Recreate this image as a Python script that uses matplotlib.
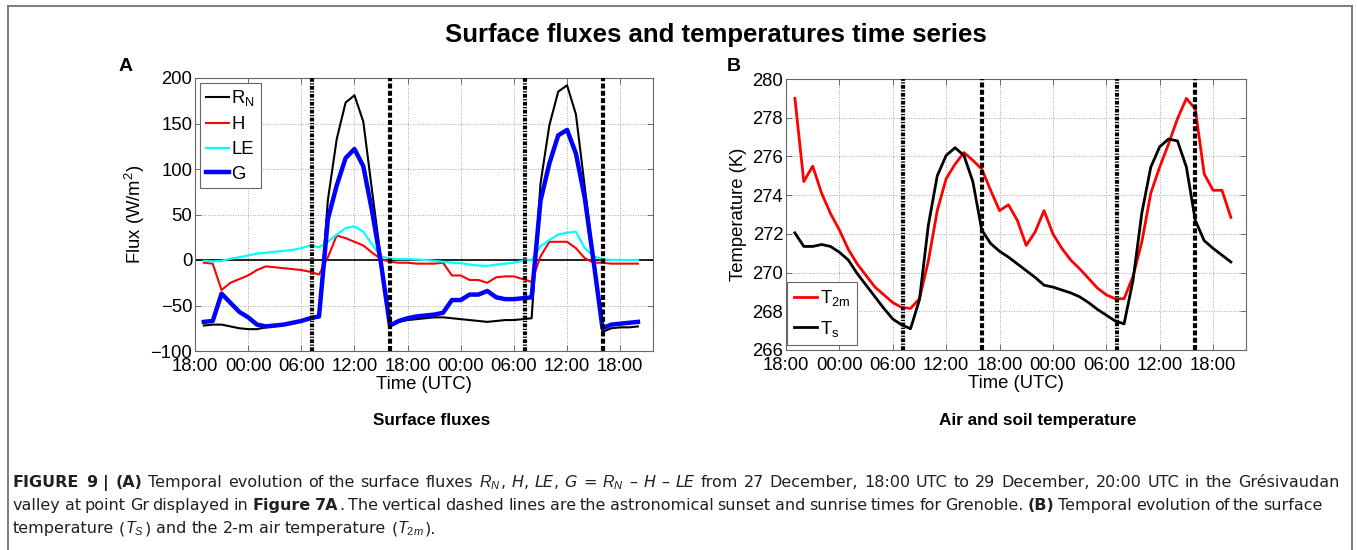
import numpy as np
import matplotlib
matplotlib.use("Agg")
import matplotlib.pyplot as plt
from matplotlib.lines import Line2D

plt.rcParams["font.family"] = ["Liberation Sans", "DejaVu Sans"]
plt.rcParams["mathtext.fontset"] = "custom"
plt.rcParams["mathtext.rm"] = "Liberation Sans"
plt.rcParams["mathtext.it"] = "Liberation Sans:italic"
plt.rcParams["mathtext.bf"] = "Liberation Sans:bold"

# ---------------- data (hourly, hours after 27 Dec 18:00 UTC) ----------------
hours = np.arange(1, 51)

rn = [-72, -71, -71, -73, -75, -76, -76, -74, -73, -71, -69, -67, -65, -63,
      66, 133, 173, 181, 152, 75, 0,
      -73, -68, -66, -65, -64, -63, -63, -64, -65, -66, -67, -68, -67, -66,
      -66, -65, -64,
      84, 148, 185, 192, 160, 80, 0,
      -79, -75, -74, -74, -73]

h_flux = [-3, -4, -33, -25, -21, -17, -11, -7, -8, -9, -10, -11, -13, -16,
          3, 27, 24, 20, 16, 8, 1,
          -2, -3, -3, -4, -4, -4, -3, -17, -17, -22, -22, -25, -19, -18,
          -18, -21, -24,
          4, 20, 20, 20, 13, 2, -3,
          -3, -4, -4, -4, -4]

le_flux = [-1, -1.5, -1, 1.5, 3, 5, 7, 8, 9, 10, 11, 13, 16, 14,
           20, 28, 35, 37, 31, 17, 4,
           1.5, 1, 1, 0.5, 0, -1, -2, -3, -3.5, -5, -6, -6.5, -5, -4,
           -3, -1, 0,
           15, 22, 28, 30, 31, 13, 4,
           1, 0, 0, 0, 0]

g_flux = [-68, -67, -37, -47, -57, -63, -71, -73, -72, -71, -69, -67, -64, -62,
          45, 82, 112, 122, 103, 53, -4,
          -72, -67, -64, -62, -61, -60, -58, -44, -44, -38, -38, -34, -41, -43,
          -43, -42, -41,
          65, 106, 137, 143, 117, 68, -2,
          -75, -71, -70, -69, -68]

t2m = [279.0, 274.7, 275.5, 274.1, 273.05, 272.2, 271.2, 270.45, 269.85, 269.25,
       268.85, 268.45, 268.2, 268.15, 268.65, 270.6, 273.2, 274.85, 275.6, 276.2,
       275.8, 275.35, 274.25, 273.2, 273.5, 272.7, 271.4, 272.1, 273.2, 272.0,
       271.25, 270.65, 270.2, 269.7, 269.2, 268.85, 268.65, 268.65, 269.8, 271.6,
       274.1, 275.45, 276.65, 277.95, 279.0, 278.45, 275.1, 274.25, 274.25, 272.85]

ts = [272.05, 271.35, 271.35, 271.45, 271.35, 271.05, 270.65, 269.95, 269.35, 268.75,
      268.15, 267.6, 267.3, 267.1, 268.6, 272.45, 275.0, 276.05, 276.45, 276.05,
      274.7, 272.2, 271.5, 271.1, 270.8, 270.45, 270.1, 269.75, 269.35, 269.25,
      269.1, 268.95, 268.75, 268.45, 268.1, 267.8, 267.5, 267.35, 269.6, 273.1,
      275.45, 276.5, 276.9, 276.8, 275.45, 272.7, 271.65, 271.25, 270.9, 270.55]

sunrise_hours = [13.2, 37.2]
sunset_hours = [22.0, 46.0]

tick_hours = [0, 6, 12, 18, 24, 30, 36, 42, 48]
tick_labels = ["18:00", "00:00", "06:00", "12:00", "18:00",
               "00:00", "06:00", "12:00", "18:00"]

# ---------------- figure ----------------
W, H = 1357, 550
fig = plt.figure(figsize=(W / 100, H / 100), dpi=100)


def axes_px(left, top, right, bottom):
    return fig.add_axes([left / W, 1 - bottom / H, (right - left) / W, (bottom - top) / H])


def style_axes(ax):
    ax.set_xlim(0, 51.7)
    ax.set_xticks(tick_hours)
    ax.set_xticklabels(tick_labels)
    ax.grid(True, linestyle=(0, (1, 2)), color="0.55", linewidth=0.6)
    ax.set_axisbelow(True)
    ax.tick_params(direction="in", length=4, width=0.6, top=True, right=True,
                   labelsize=13.3, color="0.35", labelcolor="black")
    ax.tick_params(axis="x", pad=5)
    ax.tick_params(axis="y", pad=2)
    for sp in ax.spines.values():
        sp.set_color("0.4")
        sp.set_linewidth(0.8)
    for hr in sunrise_hours:
        ax.axvline(hr, color="black", lw=3, dashes=(0.9, 0.35, 0.3, 0.35), zorder=4)
    for hr in sunset_hours:
        ax.axvline(hr, color="black", lw=3, dashes=(1.2, 0.55), zorder=4)


def style_legend(leg):
    leg.get_frame().set_edgecolor("0.4")
    leg.get_frame().set_linewidth(0.8)


# Panel A: surface fluxes
axA = axes_px(195, 78, 653, 351)
axA.axhline(0, color="black", lw=1.2, zorder=2)
lA = []
lA += axA.plot(hours, rn, color="black", lw=1.5, zorder=3, label=r"R$_\mathregular{N}$")
lA += axA.plot(hours, h_flux, color="#ff0000", lw=1.5, zorder=3, label="H")
lA += axA.plot(hours, le_flux, color="#00ffff", lw=1.6, zorder=3, label="LE")
lA += axA.plot(hours, g_flux, color="#0000ff", lw=3.2, zorder=3, label="G")
axA.set_ylim(-100, 200)
axA.set_yticks([-100, -50, 0, 50, 100, 150, 200])
style_axes(axA)
axA.set_xlabel("Time (UTC)", fontsize=13.3, labelpad=1)
axA.set_ylabel(r"Flux (W/m$^\mathregular{2}$)", fontsize=13.3)
axA.yaxis.set_label_coords(-0.104, 0.5)
legA = axA.legend(handles=lA, loc="upper left", bbox_to_anchor=(0.011, 0.982),
                  borderaxespad=0, fontsize=13.3, handlelength=1.25, handletextpad=0.15,
                  borderpad=0.3, labelspacing=0.42, fancybox=False, framealpha=1)
style_legend(legA)

# Panel B: temperatures
axB = axes_px(786, 79, 1246, 350)
lB = []
lB += axB.plot(hours, t2m, color="#ff0000", lw=2.0, zorder=3, label=r"T$_\mathregular{2m}$")
lB += axB.plot(hours, ts, color="black", lw=2.0, zorder=3, label=r"T$_\mathregular{s}$")
axB.set_ylim(266, 280)
axB.set_yticks([266, 268, 270, 272, 274, 276, 278, 280])
style_axes(axB)
axB.set_xlabel("Time (UTC)", fontsize=13.3, labelpad=1)
axB.set_ylabel("Temperature (K)", fontsize=13.3)
axB.yaxis.set_label_coords(-0.085, 0.5)
legB = axB.legend(handles=lB, loc="lower left", bbox_to_anchor=(0.003, 0.018),
                  borderaxespad=0, fontsize=13.3, handlelength=1.25, handletextpad=0.15,
                  borderpad=0.35, labelspacing=0.55, fancybox=False, framealpha=1)
style_legend(legB)

# Titles and panel letters
fig.text(716 / W, 1 - 42 / H, "Surface fluxes and temperatures time series",
         ha="center", va="baseline", fontsize=18.5, fontweight="bold")
fig.text(119 / W, 1 - 71 / H, "A", ha="left", va="baseline", fontsize=14, fontweight="bold")
fig.text(727 / W, 1 - 71 / H, "B", ha="left", va="baseline", fontsize=14, fontweight="bold")
fig.text(432 / W, 1 - 425 / H, "Surface fluxes", ha="center", va="baseline",
         fontsize=12.3, fontweight="bold")
fig.text(1038 / W, 1 - 425 / H, "Air and soil temperature", ha="center", va="baseline",
         fontsize=12.3, fontweight="bold")

# Outer frame (open at the bottom)
frame_kw = dict(color="0.45", lw=1.3, transform=fig.transFigure)
fig.add_artist(Line2D([7.5 / W, 7.5 / W], [0, 1 - 6 / H], **frame_kw))
fig.add_artist(Line2D([7.5 / W, 1352 / W], [1 - 6 / H, 1 - 6 / H], **frame_kw))
fig.add_artist(Line2D([1352 / W, 1352 / W], [0, 1 - 6 / H], **frame_kw))

# Caption, drawn word by word so that lines can be set to a right edge
CAP_FS = 11.5
CAP_FAMILY = ["DejaVu Sans"]
CAP_COLOR = "#231f20"
renderer = fig.canvas.get_renderer()
REG = {}
BOLD = {"fontweight": "bold"}
ITAL = {"fontstyle": "italic"}


def text_width(s, kw):
    probe = fig.text(0, 0, s, fontsize=CAP_FS, family=CAP_FAMILY, **kw)
    w = probe.get_window_extent(renderer).width
    probe.remove()
    return w


def run_width(s, kw):
    return text_width("x" + s + "x", kw) - text_width("xx", kw)


def caption_line(x_px, y_px, runs, right=None):
    pieces = []  # (text, kw) for words, (None, kw) for spaces
    for s, kw in runs:
        parts = s.split(" ")
        for i, part in enumerate(parts):
            if i > 0:
                pieces.append((None, kw))
            if part:
                pieces.append((part, kw))
    widths = [run_width(" ", kw) if t is None else run_width(t, kw) for t, kw in pieces]
    n_space = sum(1 for t, _ in pieces if t is None)
    extra = 0.0
    if right is not None and n_space:
        extra = (right - x_px - sum(widths)) / n_space
    x = x_px
    for (t, kw), w in zip(pieces, widths):
        if t is None:
            x += w + extra
            continue
        fig.text(x / W, 1 - y_px / H, t, ha="left", va="baseline", fontsize=CAP_FS,
                 family=CAP_FAMILY, color=CAP_COLOR, **kw)
        x += w


caption_line(13, 487, [
    ("FIGURE 9 | (A)", BOLD),
    (" Temporal evolution of the surface fluxes ", REG),
    ("$R_N$", REG), (", ", REG), ("H", ITAL), (", ", REG), ("LE", ITAL), (", ", REG),
    ("G", ITAL), (" = ", REG), ("$R_N$", REG), (" \u2013 ", REG), ("H", ITAL),
    (" \u2013 ", REG), ("LE", ITAL),
    (" from 27 December, 18:00 UTC to 29 December, 20:00 UTC in the Gr\u00e9sivaudan", REG),
], right=1339)
caption_line(13, 510, [
    ("valley at point Gr displayed in ", REG),
    ("Figure 7A", BOLD),
    (". The vertical dashed lines are the astronomical sunset and sunrise times for Grenoble. ", REG),
    ("(B)", BOLD),
    (" Temporal evolution of the surface", REG),
], right=1322)
caption_line(13, 533, [
    ("temperature (", REG), ("$T_S$", REG), (") and the 2-m air temperature (", REG),
    (r"$T_{\mathit{2m}}$", REG), (").", REG),
])

fig.savefig("out.png", dpi=100)
